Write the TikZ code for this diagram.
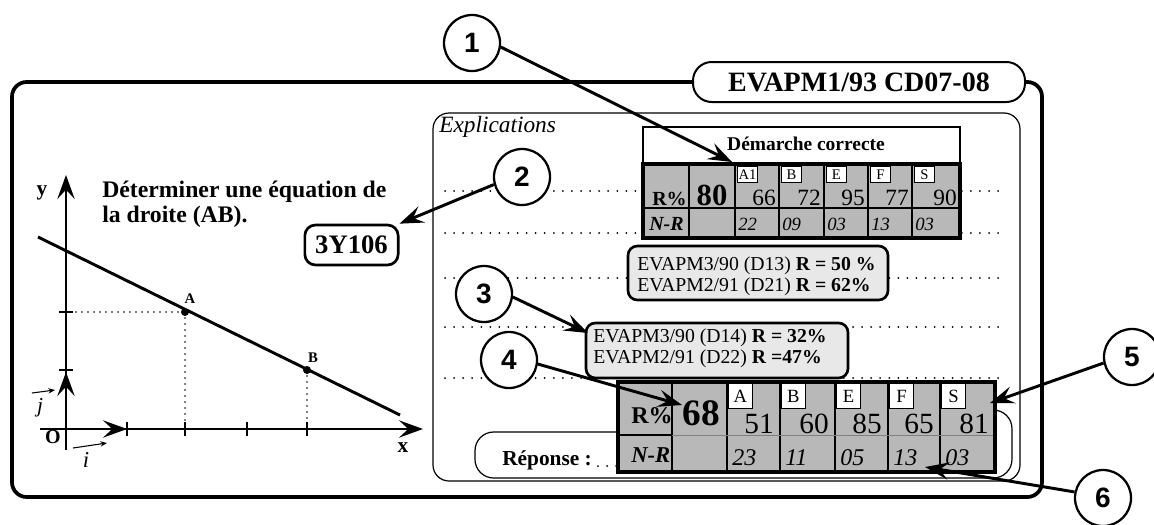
\documentclass[tikz,border=0pt]{standalone}
\usepackage{fontspec}
\setmainfont{Liberation Serif}
\newfontfamily\calloutfont{Liberation Sans}
\usetikzlibrary{arrows.meta}
\newcommand\fsz[1]{\fontsize{#1pt}{#1pt}\selectfont}
\begin{document}
\begin{tikzpicture}[x=0.75pt,y=-0.75pt,
  frameline/.style={line width=2.8pt},
  thinline/.style={line width=0.9pt},
  guide/.style={line width=1.5pt, line cap=round, dash pattern=on 0pt off 6.8pt},
  callout/.style={circle, draw, fill=white, line width=1.7pt, minimum size=42pt, inner sep=0pt, font=\calloutfont\bfseries\fsz{21}},
  pointer/.style={line width=2.2pt, -{Stealth[length=18pt,width=13pt,inset=7pt]}},
  axisline/.style={line width=1.8pt},
  axistip/.style={-{Stealth[length=18pt,width=13pt,inset=7pt]}},
  vectip/.style={line width=0.8pt, -{Stealth[length=5pt,width=4pt]}},
  projline/.style={line width=1.3pt, line cap=round, dash pattern=on 0pt off 4.5pt},
  cellfill/.style={fill=black!28},
  tagbox/.style={draw, fill=white, line width=0.7pt, inner sep=0pt, anchor=north west},
  statbox/.style={draw, line width=2pt, rounded corners=7pt, fill=black!9, inner sep=0pt},
  lbl/.style={inner sep=0pt},
]
\useasboundingbox (0,0) rectangle (1154,525);

% ---------- title tab and outer frame ----------
\node[draw, fill=white, line width=1.5pt, rounded corners=14pt, minimum width=249pt,
      minimum height=30pt, inner sep=0pt, font=\bfseries\fsz{21}] (title) at (859,82) {EVAPM1/93 CD07-08};
\draw[frameline, rounded corners=11pt] (title.west) -- (12,82) -- (12,497) -- (1042,497) -- (1042,82) -- (title.east);

% ---------- coordinate plot ----------
\node[lbl, anchor=base west, font=\bfseries\fsz{17.8}] (q1) at (102,197) {Déterminer une équation de};
\node[lbl, anchor=base west, font=\bfseries\fsz{17.8}] (q2) at (102,222) {la droite (AB).};
\draw[projline] (70,312) -- (185,312);
\draw[projline] (185,312) -- (185,425);
\draw[projline] (307,370) -- (307,425);
\draw[axisline, axistip] (40,429) -- (423,429);
\draw[axisline, axistip] (66,450) -- (66,175);
\draw[axisline, axistip] (66,429) -- (127,429);
\draw[axisline, axistip] (66,429) -- (66,372);
\foreach \x in {127,185,247,307} \draw[axisline] (\x,422) -- (\x,436);
\foreach \y in {312,370} \draw[axisline] (59,\y) -- (73,\y);
\draw[line width=2.2pt] (38,237) -- (400,415);
\fill (185,312) circle[radius=4];
\fill (307,370) circle[radius=4];
\node[lbl, anchor=base, font=\bfseries\fsz{16}] (ylab) at (42,195) {y};
\node[lbl, anchor=base, font=\bfseries\fsz{16}] (xlab) at (403,452) {x};
\node[lbl, anchor=base, font=\bfseries\fsz{15}] (olab) at (53,443) {O};
\node[lbl, anchor=base, font=\bfseries\fsz{11}] (alab) at (190,303) {A};
\node[lbl, anchor=base, font=\bfseries\fsz{11}] (blab) at (313,362) {B};
\node[lbl, anchor=base, font=\itshape\fsz{17}] (ilab) at (86,467) {i};
\node[lbl, anchor=base, font=\itshape\fsz{16}] (jlab) at (40,412) {j};
\draw[vectip] (73,448) -- (107,443);
\draw[vectip] (32,393) -- (55,390);

% ---------- explanation panel ----------
\draw[thinline, rounded corners=12pt] (433,113) rectangle (1020,481);
\node[lbl, anchor=base west, font=\itshape\fsz{17.5}] (expl) at (439,132) {Explications};
\foreach \y in {191,233,278,327,378} \draw[guide] (445,\y) -- (1007,\y);

% answer strip
\draw[thinline, fill=white, rounded corners=14pt] (618,432) -- (475,432) -- (475,478) -- (1012,478) -- (1012,410) -- (995,410);
\node[lbl, anchor=base west, font=\bfseries\fsz{16}] (rep) at (502,465) {Réponse :};
\draw[guide] (598,466) -- (618,466);

% ---------- table: correct method ----------
\draw[line width=1.3pt, fill=white] (643,127) rectangle (960,164);
\node[lbl, anchor=base, font=\bfseries\fsz{14.6}] (hdr) at (806,150) {Démarche correcte};
\fill[cellfill] (643,164) rectangle (960,238);
\foreach \x in {689,735,779,824,868,912} \draw[line width=1.4pt] (\x,164) -- (\x,238);
\draw[line width=0.8pt] (643,208) -- (960,208);
\draw[line width=2.6pt] (643,164) rectangle (960,238);
\node[lbl, anchor=base west, font=\bfseries\fsz{15}] (ra) at (652,205) {R\%};
\node[lbl, anchor=base west, font=\bfseries\itshape\fsz{15}] (na) at (649,230) {N-R};
\node[lbl, anchor=base, font=\bfseries\fsz{23}] (tota) at (712,205) {80};
\foreach \xa/\xb/\tg/\rv/\nv in {735/779/A1/66/22, 779/824/B/72/09, 824/868/E/95/03, 868/912/F/77/13, 912/960/S/90/03}{
  \node[tagbox, minimum width=15pt, minimum height=12pt, font=\fsz{11}] (ta\tg) at (\xa+2,166) {\tg};
  \node[lbl, anchor=base east, font=\fsz{17.5}] (va\tg) at (\xb-3,205) {\rv};
  \node[lbl, anchor=base west, font=\itshape\fsz{14}] (wa\tg) at (\xa+3,230) {\nv};
}

% ---------- earlier results ----------
\node[statbox, minimum width=195pt, minimum height=40.5pt] (ev1) at (758,273) {};
\node[lbl, anchor=base west, font=\fsz{14.8}] (ev1a) at (637,270) {EVAPM3/90 (D13) \textbf{R = 50 \%}};
\node[lbl, anchor=base west, font=\fsz{14.8}] (ev1b) at (637,291) {EVAPM2/91 (D21) \textbf{R = 62\%}};
\node[statbox, minimum width=196.5pt, minimum height=41.25pt] (ev2) at (717,350.5) {};
\node[lbl, anchor=base west, font=\fsz{14.8}] (ev2a) at (593,342) {EVAPM3/90 (D14) \textbf{R = 32\%}};
\node[lbl, anchor=base west, font=\fsz{14.8}] (ev2b) at (593,363) {EVAPM2/91 (D22) \textbf{R =47\%}};

% ---------- table: answer ----------
\fill[cellfill] (618,382) rectangle (995,472);
\foreach \x in {672,727,780,835,888,940} \draw[line width=1.5pt] (\x,382) -- (\x,472);
\draw[line width=0.6pt, black!50] (672,435) -- (995,435);
\draw[line width=0.8pt] (618,435) -- (672,435);
\draw[line width=3pt] (618,382) rectangle (995,472);
\node[lbl, anchor=base west, font=\bfseries\fsz{18}] (rb) at (631,423) {R\%};
\node[lbl, anchor=base west, font=\bfseries\itshape\fsz{17}] (nb) at (631,462) {N-R};
\node[lbl, anchor=base, font=\bfseries\fsz{28}] (totb) at (701,425) {68};
\foreach \xa/\xb/\tg/\rv/\nv in {727/780/A/51/23, 780/835/B/60/11, 835/888/E/85/05, 888/940/F/65/13, 940/995/S/81/03}{
  \node[tagbox, minimum width=18pt, minimum height=19pt, font=\fsz{14}] (tb\tg) at (\xa+1,383) {\tg};
  \node[lbl, anchor=base east, font=\fsz{22}] (vb\tg) at (\xb-6,433) {\rv};
  \node[lbl, anchor=base west, font=\itshape\fsz{18}] (wb\tg) at (\xa+5,465) {\nv};
}

% ---------- task code ----------
\node[draw, fill=white, line width=2pt, rounded corners=8pt, minimum width=70pt, minimum height=30pt,
      inner sep=0pt, font=\bfseries\fsz{20}] (code) at (351.5,245) {3Y106};

% ---------- numbered callouts ----------
\node[callout] (c1) at (472,43) {1};
\node[callout] (c2) at (522,177) {2};
\node[callout] (c3) at (484,294) {3};
\node[callout] (c4) at (509,360) {4};
\node[callout] (c5) at (1132,357) {5};
\node[callout] (c6) at (1103,498) {6};
\coordinate (t1) at (732,162);
\coordinate (t3) at (588,333);
\coordinate (t4) at (682,405);
\coordinate (t5) at (990,403);
\coordinate (t6) at (925,467);
\draw[pointer] (c1.-8) -- (t1);
\draw[pointer] (c2.195) -- (code.north east);
\draw[pointer] (c3.-6) -- (t3);
\draw[pointer] (c4.-8) -- (t4);
\draw[pointer] (c5.192) -- (t5);
\draw[pointer] (c6.168) -- (t6);
\end{tikzpicture}
\end{document}
